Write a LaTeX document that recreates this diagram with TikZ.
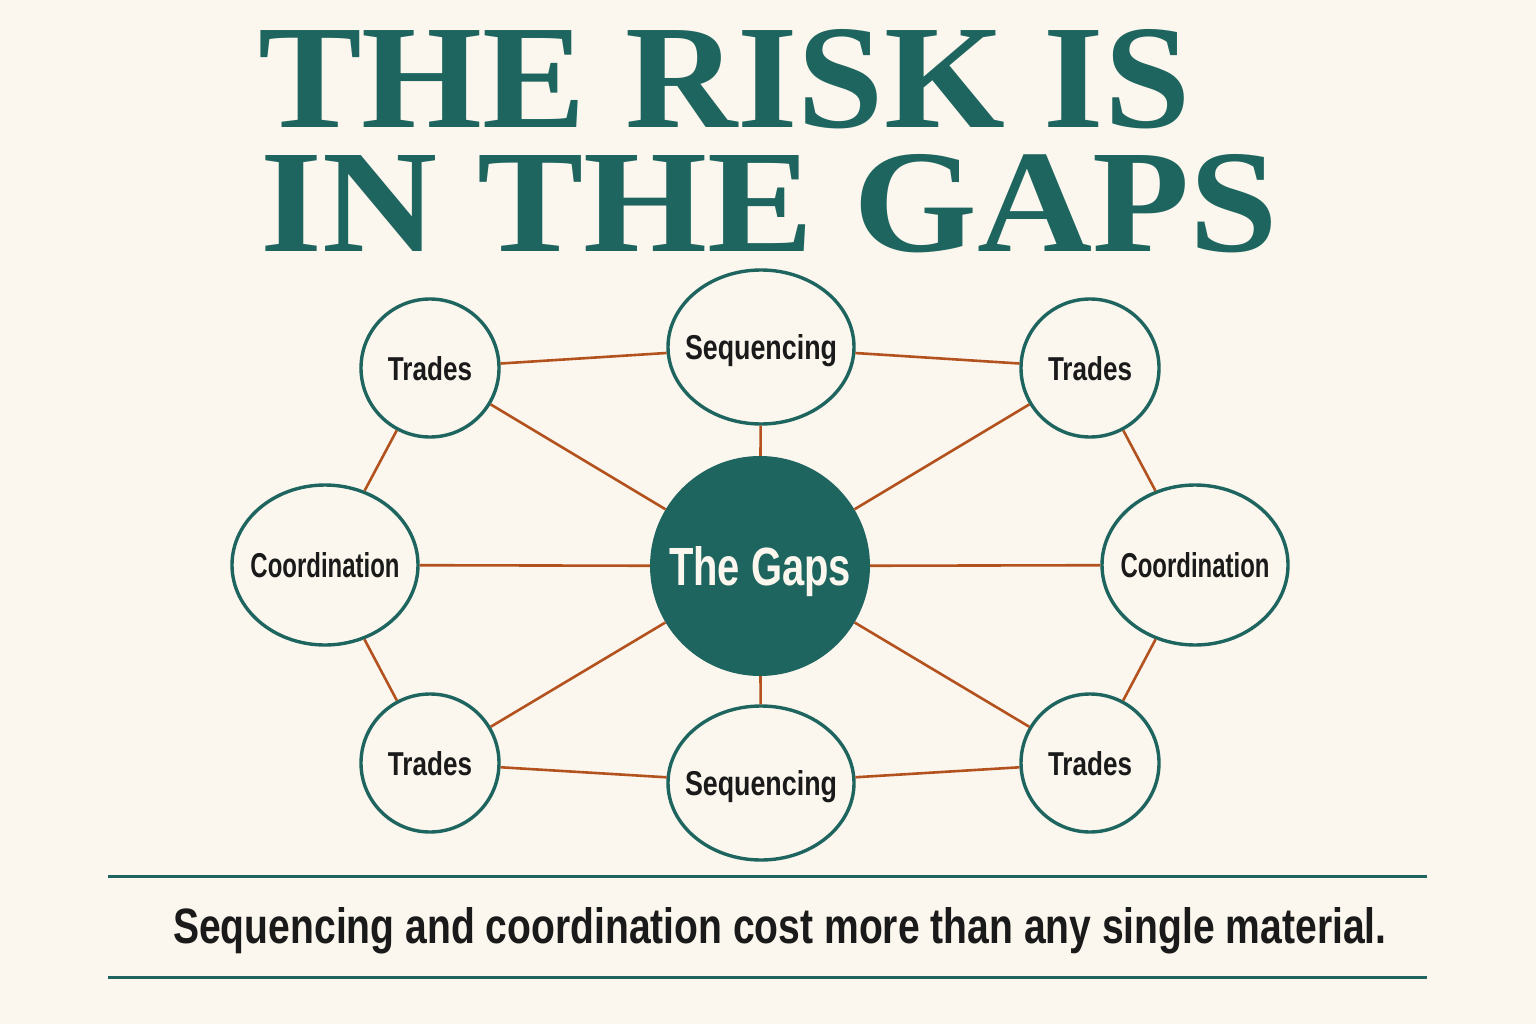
\documentclass[tikz,border=0pt]{standalone}
\usepackage{fontspec}
\usetikzlibrary{shapes.geometric}
\newfontfamily\titlefont{Liberation Serif}
\newfontfamily\labelfont{Liberation Sans}
\definecolor{bgc}{HTML}{FBF7EE}
\definecolor{tealc}{HTML}{1E655F}
\definecolor{rustc}{HTML}{B4521F}
\definecolor{inkc}{HTML}{1A1A1A}
\tikzset{
  sat/.style={circle, draw=tealc, line width=3.4pt, fill=bgc, minimum size=138pt, inner sep=0pt, text depth=0pt, text=inkc},
  oval/.style={ellipse, draw=tealc, line width=3.4pt, fill=bgc, minimum width=186pt, minimum height=154pt, inner sep=0pt, text depth=0pt, text=inkc},
  hub/.style={circle, fill=tealc, minimum size=220pt, inner sep=0pt, text depth=0pt, text=bgc},
  link/.style={draw=rustc, line width=2.6pt},
  rule/.style={draw=tealc, line width=3pt},
  titletext/.style={anchor=base west, inner sep=0pt, text depth=0pt, text=tealc},
  foot/.style={anchor=base west, inner sep=0pt, text=inkc}
}
\newcommand{\lbl}[3]{\resizebox{#1pt}{#2pt}{\labelfont\bfseries #3}}
\newcommand{\zlbl}[3]{\makebox[0pt]{\resizebox{#1pt}{#2pt}{\labelfont\bfseries #3}}}
\begin{document}
\begin{tikzpicture}[x=1pt,y=-1pt]
\fill[bgc] (0,0) rectangle (1536,1024);
\useasboundingbox (0,0) rectangle (1536,1024);

\node[titletext] (t1) at (258,128) {\resizebox{932pt}{98pt}{\titlefont\bfseries THE RISK IS}};
\node[titletext] (t2) at (260,252) {\resizebox{1018pt}{97pt}{\titlefont\bfseries IN THE GAPS}};

\node[hub] (gaps) at (760,566) {\lbl{182}{39}{The Gaps}};
\node[sat] (tl) at (430,368) {\lbl{84}{24}{Trades}};
\node[sat] (tr) at (1090,368) {\lbl{84}{24}{Trades}};
\node[sat] (bl) at (430,763) {\lbl{84}{24}{Trades}};
\node[sat] (br) at (1090,763) {\lbl{84}{24}{Trades}};
\node[oval] (st) at (761,347) {\zlbl{152}{25}{Sequencing}};
\node[oval] (sb) at (761,783) {\zlbl{152}{25}{Sequencing}};
\node[oval, minimum height=160pt] (cl) at (325,565) {\zlbl{149}{25}{Coordination}};
\node[oval, minimum height=160pt] (cr) at (1195,565) {\zlbl{149}{25}{Coordination}};

\draw[link] (tl) -- (st);
\draw[link] (st) -- (tr);
\draw[link] (bl) -- (sb);
\draw[link] (sb) -- (br);
\draw[link] (tl) -- (cl);
\draw[link] (cl) -- (bl);
\draw[link] (tr) -- (cr);
\draw[link] (cr) -- (br);
\draw[link] (tl) -- (gaps);
\draw[link] (st) -- (gaps);
\draw[link] (tr) -- (gaps);
\draw[link] (cl) -- (gaps);
\draw[link] (cr) -- (gaps);
\draw[link] (bl) -- (gaps);
\draw[link] (sb) -- (gaps);
\draw[link] (br) -- (gaps);

\coordinate (r1a) at (108,876);
\coordinate (r1b) at (1427,876);
\coordinate (r2a) at (108,977);
\coordinate (r2b) at (1427,977);
\draw[rule] (r1a) -- (r1b);
\draw[rule] (r2a) -- (r2b);

\node[foot] (note) at (173,943) {\lbl{1213}{36}{Sequencing and coordination cost more than any single material.}};
\end{tikzpicture}
\end{document}
